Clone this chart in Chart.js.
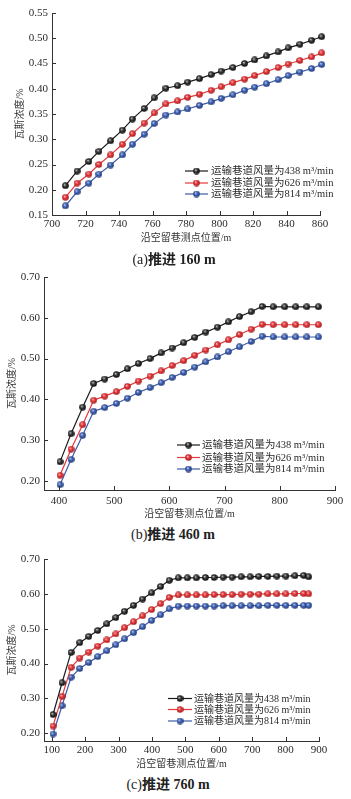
<!DOCTYPE html>
<html>
<head>
<meta charset="utf-8">
<script src="https://cdn.jsdelivr.net/npm/chart.js@4/dist/chart.umd.min.js"></script>
<style>
  html, body { margin: 0; padding: 0; background: #fff; }
  body { width: 351px; height: 799px; position: relative; overflow: hidden; }
  canvas { position: absolute; left: 0; }
  .cap {
    position: absolute; transform: translate(-50%, -50%);
    font-family: "Liberation Serif", "Noto Sans CJK SC", serif;
    font-size: 14px; color: #222; white-space: nowrap;
  }
  .cap b { font-weight: 700; }
</style>
</head>
<body>
<canvas id="chartA" width="351" height="248" style="top:0px"></canvas>
<canvas id="chartB" width="351" height="260" style="top:262px"></canvas>
<canvas id="chartC" width="351" height="227" style="top:545px"></canvas>
<div class="cap" style="left:174px; top:258px">(a)<b>推进 160 m</b></div>
<div class="cap" style="left:173px; top:533px">(b)<b>推进 460 m</b></div>
<div class="cap" style="left:168px; top:783px">(c)<b>推进 760 m</b></div>

<script>
// series labels (legend)
const seriesLabels = ['运输巷道风量为438 m³/min', '运输巷道风量为626 m³/min', '运输巷道风量为814 m³/min'];
const seriesColors = ['#1c1c1c', '#e5383b', '#3c5aa6'];
const xTitle = '沿空留巷测点位置/m';
const yTitle = '瓦斯浓度/%';

// (a) 推进 160 m
const xA = [708, 715, 722, 728, 735, 742, 748, 755, 761, 768, 775, 781, 788, 795, 801, 808, 815, 821, 828, 835, 841, 848, 855, 861, 868];
const blackA = [0.208, 0.237, 0.256, 0.276, 0.297, 0.318, 0.340, 0.361, 0.382, 0.401, 0.406, 0.413, 0.420, 0.428, 0.435, 0.442, 0.450, 0.457, 0.465, 0.473, 0.481, 0.488, 0.496, 0.503, 0.509];
const redA = [0.185, 0.213, 0.231, 0.250, 0.269, 0.290, 0.311, 0.332, 0.352, 0.370, 0.376, 0.383, 0.389, 0.397, 0.404, 0.412, 0.419, 0.426, 0.434, 0.442, 0.449, 0.456, 0.463, 0.471, 0.476];
const blueA = [0.168, 0.196, 0.213, 0.231, 0.249, 0.269, 0.290, 0.310, 0.331, 0.348, 0.354, 0.360, 0.367, 0.374, 0.381, 0.388, 0.397, 0.403, 0.410, 0.418, 0.426, 0.433, 0.440, 0.448, 0.453];
const xTicksA = [700, 720, 740, 760, 780, 800, 820, 840, 860];
const yTicksA = [0.15, 0.20, 0.25, 0.30, 0.35, 0.40, 0.45, 0.50, 0.55];

// (b) 推进 460 m
const xB = [402, 422, 443, 463, 483, 504, 524, 544, 565, 585, 605, 626, 646, 666, 687, 707, 727, 748, 768, 788, 809, 829, 849, 870];
const blackB = [0.247, 0.316, 0.381, 0.439, 0.450, 0.461, 0.475, 0.488, 0.500, 0.514, 0.526, 0.539, 0.552, 0.565, 0.577, 0.590, 0.603, 0.615, 0.628, 0.627, 0.627, 0.627, 0.627, 0.627];
const redB = [0.214, 0.278, 0.338, 0.398, 0.408, 0.419, 0.432, 0.445, 0.457, 0.470, 0.483, 0.495, 0.508, 0.521, 0.534, 0.546, 0.559, 0.572, 0.584, 0.583, 0.583, 0.583, 0.583, 0.583];
const blueB = [0.191, 0.253, 0.312, 0.371, 0.380, 0.390, 0.403, 0.417, 0.429, 0.441, 0.454, 0.466, 0.479, 0.492, 0.504, 0.517, 0.529, 0.542, 0.555, 0.553, 0.553, 0.553, 0.553, 0.553];
const xTicksB = [400, 500, 600, 700, 800, 900];
const yTicksB = [0.20, 0.30, 0.40, 0.50, 0.60, 0.70];

// (c) 推进 760 m
const xC = [104, 131, 158, 184, 211, 238, 265, 292, 318, 345, 372, 399, 426, 452, 479, 506, 533, 560, 586, 613, 640, 667, 694, 720, 747, 774, 801, 828, 854, 869];
const blackC = [0.254, 0.345, 0.432, 0.460, 0.478, 0.495, 0.514, 0.532, 0.550, 0.567, 0.585, 0.603, 0.621, 0.639, 0.646, 0.646, 0.646, 0.647, 0.647, 0.648, 0.648, 0.649, 0.649, 0.650, 0.650, 0.651, 0.651, 0.652, 0.653, 0.649];
const redC = [0.221, 0.306, 0.389, 0.416, 0.433, 0.450, 0.468, 0.485, 0.503, 0.520, 0.537, 0.555, 0.572, 0.590, 0.597, 0.597, 0.597, 0.597, 0.598, 0.598, 0.598, 0.599, 0.599, 0.599, 0.600, 0.600, 0.600, 0.601, 0.601, 0.600];
const blueC = [0.198, 0.279, 0.361, 0.386, 0.403, 0.420, 0.437, 0.454, 0.471, 0.489, 0.506, 0.524, 0.540, 0.557, 0.565, 0.565, 0.565, 0.565, 0.565, 0.566, 0.566, 0.566, 0.566, 0.566, 0.567, 0.567, 0.567, 0.567, 0.567, 0.567];
const xTicksC = [100, 200, 300, 400, 500, 600, 700, 800, 900];
const yTicksC = [0.20, 0.30, 0.40, 0.50, 0.60, 0.70];

const FONT = '"Liberation Serif", "Noto Sans CJK SC", serif';
const TXT = '#2a2a2a';

// little shaded ball used as marker
function makeBall(light, mid, dark) {
  const s = 7;
  const c = document.createElement('canvas');
  c.width = s; c.height = s;
  const g = c.getContext('2d');
  const grad = g.createRadialGradient(s * 0.36, s * 0.34, 0, s / 2, s / 2, s / 2);
  grad.addColorStop(0, light);
  grad.addColorStop(0.45, mid);
  grad.addColorStop(1, dark);
  g.fillStyle = grad;
  g.beginPath();
  g.arc(s / 2, s / 2, s / 2 - 0.2, 0, Math.PI * 2);
  g.fill();
  return c;
}
const balls = [
  makeBall('#d0d0d0', '#3a3a3a', '#000000'),
  makeBall('#ffc4c4', '#e8393c', '#9c1a1d'),
  makeBall('#c9d6f5', '#4266b8', '#1d336f')
];

// inward tick marks + legend
const decor = {
  id: 'decor',
  afterDraw(chart, args, opts) {
    const ctx = chart.ctx;
    const xs = chart.scales.x, ys = chart.scales.y;
    ctx.save();
    ctx.strokeStyle = '#333';
    ctx.lineWidth = 1;
    ctx.beginPath();
    xs.ticks.forEach(t => {
      const px = Math.round(xs.getPixelForValue(t.value)) + 0.5;
      ctx.moveTo(px, xs.top);
      ctx.lineTo(px, xs.top - 4);
    });
    ys.ticks.forEach(t => {
      const py = Math.round(ys.getPixelForValue(t.value)) + 0.5;
      ctx.moveTo(ys.right, py);
      ctx.lineTo(ys.right + 4, py);
    });
    ctx.stroke();

    // legend
    ctx.font = opts.fontSize + 'px ' + FONT;
    ctx.textBaseline = 'middle';
    ctx.fillStyle = TXT;
    chart.data.datasets.forEach((ds, i) => {
      const y = opts.rows[i];
      ctx.strokeStyle = ds.borderColor;
      ctx.lineWidth = 1.2;
      ctx.beginPath();
      ctx.moveTo(opts.x0, y);
      ctx.lineTo(opts.x1, y);
      ctx.stroke();
      const b = balls[i];
      ctx.drawImage(b, (opts.x0 + opts.x1) / 2 - b.width / 2, y - b.height / 2);
      ctx.fillText(ds.label, opts.tx, y + 0.5);
    });
    ctx.restore();
  }
};

function makeChart(id, xs, series, xTicks, yTicks, g) {
  const datasets = series.map((vals, i) => ({
    label: seriesLabels[i],
    data: xs.map((x, k) => ({ x: x, y: vals[k] })),
    borderColor: seriesColors[i],
    backgroundColor: seriesColors[i],
    borderWidth: 1.2,
    pointStyle: balls[i],
    pointRadius: 3.5,
    tension: 0,
    clip: false
  }));
  const tickFont = { family: FONT, size: 11 };
  const titleFont = { family: FONT, size: 10 };
  return new Chart(document.getElementById(id), {
    type: 'scatter',
    data: { datasets: datasets },
    options: {
      responsive: false,
      animation: false,
      showLine: true,
      layout: { padding: { left: 0, top: g.top, right: g.right, bottom: 0 } },
      plugins: {
        legend: { display: false },
        tooltip: { enabled: false },
        decor: g.legend
      },
      scales: {
        x: {
          type: 'linear',
          min: g.xMin, max: g.xMax,
          afterBuildTicks: s => { s.ticks = xTicks.map(v => ({ value: v })); },
          afterFit: s => { s.height = g.xH; },
          grid: { display: true, drawOnChartArea: false, drawTicks: false },
          border: { color: '#333', width: 1 },
          ticks: { font: tickFont, color: TXT, padding: g.xPad, maxRotation: 0, autoSkip: false, callback: v => String(v) },
          title: { display: true, text: xTitle, font: titleFont, color: '#333', padding: { top: 0, bottom: g.xTitlePad } }
        },
        y: {
          type: 'linear',
          min: g.yMin, max: g.yMax,
          afterBuildTicks: s => { s.ticks = yTicks.map(v => ({ value: v })); },
          afterFit: s => { s.width = g.yW; },
          grid: { display: true, drawOnChartArea: false, drawTicks: false },
          border: { color: '#333', width: 1 },
          ticks: { font: tickFont, color: TXT, padding: 4, autoSkip: false, callback: v => v.toFixed(2) },
          title: { display: true, text: yTitle, font: titleFont, color: '#333', padding: { top: g.yTitlePad, bottom: 0 } }
        }
      }
    },
    plugins: [decor]
  });
}

makeChart('chartA', xA, [blackA, redA, blueA], xTicksA, yTicksA, {
  top: 13, right: 31, xH: 33, yW: 52, xPad: 3, xTitlePad: 4, yTitlePad: 14,
  xMin: 700, xMax: 860, yMin: 0.15, yMax: 0.55,
  legend: { x0: 185, x1: 208, tx: 211, rows: [171, 183, 194], fontSize: 10.5 }
});

makeChart('chartB', xB, [blackB, redB, blueB], xTicksB, yTicksB, {
  top: 15, right: 16, xH: 32, yW: 44, xPad: 5, xTitlePad: 2, yTitlePad: 6,
  xMin: 373, xMax: 900, yMin: 0.178, yMax: 0.70,
  legend: { x0: 177, x1: 200, tx: 202, rows: [183, 195.5, 207], fontSize: 10.5 }
});

makeChart('chartC', xC, [blackC, redC, blueC], xTicksC, yTicksC, {
  top: 14, right: 32, xH: 31, yW: 44, xPad: 2.5, xTitlePad: 2, yTitlePad: 6,
  xMin: 77, xMax: 900, yMin: 0.178, yMax: 0.70,
  legend: { x0: 168, x1: 192, tx: 194, rows: [153.5, 164.5, 176], fontSize: 10 }
});
</script>
</body>
</html>
